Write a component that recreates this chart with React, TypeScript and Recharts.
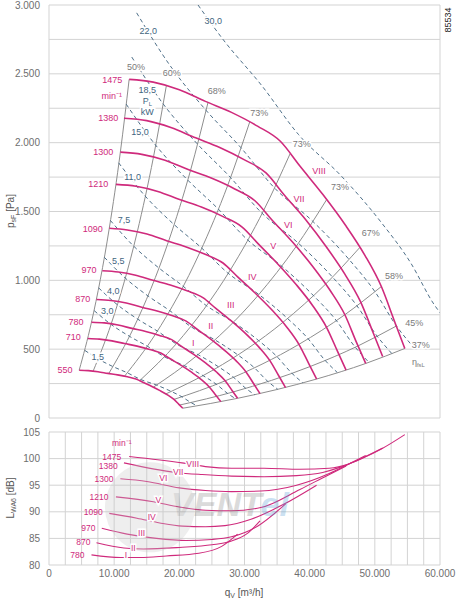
import React from 'react';
import { ComposedChart, Line, XAxis, YAxis, CartesianGrid, ReferenceDot } from 'recharts';

const FONT = '"Liberation Sans", Arial, Helvetica, sans-serif';
const PINK = '#cf2a7c';
const GREY = '#8e8e8e';
const DASH = '#4f7089';
const BLUE_TXT = '#3f6580';
const TICK = '#6e6e6e';

// fan speeds [min-1], same order as fanCurves
const speedNames = ['1475', '1380', '1300', '1210', '1090', '970', '870', '780', '710', '550'];

// p_sF [Pa] over q_V [m3/h]
const fanCurves: number[][][] = [
  [[12300, 2460], [16000, 2440], [20000, 2385], [24000, 2300], [28000, 2220], [32000, 2120], [35500, 2010], [38500, 1830], [42000, 1625], [45500, 1400], [48500, 1180], [51000, 955], [53000, 705], [54600, 505]],
  [[11500, 2177], [15000, 2160], [18700, 2110], [22500, 2035], [26200, 1965], [30000, 1875], [33300, 1780], [36100, 1620], [39400, 1440], [42600, 1240], [45400, 1045], [47800, 845], [49700, 625], [51200, 447]],
  [[10950, 1931], [14250, 1915], [17800, 1872], [21350, 1805], [24900, 1743], [28500, 1664], [31600, 1578], [34250, 1437], [37400, 1276], [40500, 1099], [43150, 926], [45400, 750], [47150, 553], [48600, 396]],
  [[10270, 1697], [13360, 1684], [16700, 1646], [20040, 1587], [23380, 1532], [26720, 1463], [29640, 1387], [32150, 1263], [35070, 1121], [37990, 966], [40500, 814], [42590, 659], [44260, 486], [45590, 348]],
  [[9250, 1378], [12030, 1366], [15040, 1336], [18050, 1288], [21060, 1243], [24060, 1187], [26700, 1126], [28950, 1025], [31580, 910], [34220, 784], [36470, 661], [38350, 535], [39860, 395], [41060, 283]],
  [[8180, 1070], [10640, 1061], [13300, 1037], [15960, 1000], [18620, 966], [21280, 922], [23610, 874], [25600, 796], [27930, 707], [30260, 609], [32250, 513], [33920, 415], [35250, 307], [36310, 220]],
  [[7290, 861], [9490, 854], [11860, 835], [14230, 805], [16600, 777], [18980, 742], [21050, 704], [22830, 641], [24910, 569], [26980, 490], [28760, 413], [30240, 334], [31430, 247], [32380, 177]],
  [[6520, 696], [8480, 691], [10600, 675], [12720, 651], [14840, 628], [16960, 600], [18820, 569], [20400, 518], [22260, 460], [24120, 396], [25700, 334], [27030, 270], [28090, 200], [28940, 143]],
  [[5940, 578], [7730, 573], [9660, 560], [11590, 541], [13520, 522], [15460, 498], [17150, 472], [18600, 430], [20290, 382], [21980, 329], [23430, 277], [24630, 224], [25600, 166], [26370, 119]],
  [[4630, 347], [6020, 344], [7520, 336], [9020, 324], [10530, 313], [12030, 299], [13350, 283], [14480, 258], [15790, 229], [17110, 197], [18240, 166], [19180, 135], [19930, 99], [20530, 71]],
];

// efficiency lines eta_fsL
const effNames = ['50%', '60%', '68%', '73%', '73%', '73%', '67%', '58%', '45%', '37%'];
const effLines: number[][][] = [
  [[4630, 347], [6520, 696], [9250, 1378], [10950, 1931], [12300, 2460]],
  [[6770, 340], [9540, 683], [13540, 1351], [16020, 1893], [18000, 2412]],
  [[9170, 323], [12930, 649], [18350, 1284], [21720, 1799], [24400, 2292]],
  [[11580, 303], [16320, 608], [23160, 1204], [27410, 1688], [30800, 2150]],
  [[13910, 271], [19610, 543], [27820, 1075], [32930, 1507], [37000, 1920]],
  [[16020, 224], [22580, 449], [32040, 888], [37910, 1245], [42600, 1586]],
  [[17940, 175], [25280, 351], [35870, 694], [42450, 973], [47700, 1239]],
  [[19180, 135], [27030, 270], [38350, 535], [45390, 750], [51000, 955]],
  [[20040, 94], [28250, 189], [40080, 374], [47440, 524], [53300, 668]],
  [[20530, 71], [28940, 143], [41060, 283], [48600, 396], [54600, 505]],
];

// shaft power lines P_L [kW]
const powerNames = ['1,5', '3,0', '4,0', '5,5', '7,5', '11,0', '15,0', '18,5', '22,0', '30,0'];
const powerLines: number[][][] = [
  [[5500, 491], [7580, 428], [9840, 373], [12030, 328], [14110, 279], [16520, 239], [18800, 192], [20430, 153], [21780, 112], [22760, 88]],
  [[6930, 780], [9550, 679], [12400, 592], [15150, 520], [17780, 443], [20820, 379], [23690, 306], [25740, 243], [27440, 177], [28680, 139]],
  [[7620, 945], [10510, 822], [13650, 717], [16680, 630], [19570, 537], [22910, 459], [26070, 370], [28330, 295], [30210, 215], [31570, 169]],
  [[8480, 1168], [11690, 1017], [15180, 887], [18550, 779], [21760, 664], [25480, 567], [28990, 458], [31510, 365], [33590, 265], [35100, 209]],
  [[9400, 1436], [12960, 1250], [16830, 1091], [20560, 958], [24130, 817], [28250, 698], [32150, 563], [34940, 448], [37250, 326], [38920, 257]],
  [[10680, 1854], [14720, 1614], [19130, 1408], [23370, 1237], [27420, 1054], [32100, 901], [36530, 726], [39700, 579], [42320, 421], [44230, 331]],
  [[11840, 2280], [16330, 1984], [21210, 1732], [25910, 1521], [30400, 1297], [35600, 1107], [40500, 893], [44020, 712], [46930, 518], [49040, 407]],
  [[12700, 2622], [17510, 2282], [22740, 1992], [27790, 1750], [32610, 1491], [38170, 1274], [43440, 1027], [47210, 818], [50330, 596], [52590, 469]],
  [[13450, 2943], [18550, 2562], [24100, 2235], [29440, 1964], [34540, 1674], [40440, 1430], [46020, 1153], [50010, 918], [53320, 668], [55720, 526]],
  [[22870, 3000], [26720, 2749], [32640, 2415], [38310, 2058], [44850, 1758], [51030, 1418], [55460, 1130], [59130, 822], [60000, 765]],
];

// sound power L_WA6 [dB] over q_V, 1475 ... 780
const noiseNames = ['1475', '1380', '1300', '1210', '1090', '970', '870', '780'];
const noiseCurves: number[][][] = [
  [[12300, 100.4], [20400, 99.2], [24000, 98.5], [28000, 98.2], [33000, 98.2], [38500, 98.0], [43000, 98.2], [46000, 99.0], [48000, 100.0], [51000, 101.8], [54600, 104.5]],
  [[11500, 99.2], [19500, 97.4], [23500, 97.0], [28000, 96.7], [33000, 96.6], [38000, 96.8], [42000, 97.4], [44500, 98.3], [47700, 99.9], [51200, 102.0]],
  [[10950, 96.2], [15000, 95.7], [20000, 94.5], [24000, 94.0], [28000, 93.8], [32500, 93.9], [38000, 95.0], [43000, 97.2], [46000, 99.0], [48600, 100.6]],
  [[10270, 92.8], [16000, 91.9], [20000, 90.9], [24000, 90.3], [28000, 90.2], [32500, 90.8], [38500, 94.2], [42500, 96.7], [45600, 98.6]],
  [[9250, 89.7], [13500, 88.8], [17000, 87.9], [20500, 87.3], [24000, 87.2], [27000, 87.4], [31000, 88.6], [36000, 91.4], [41060, 95.0]],
  [[8100, 86.9], [12000, 85.8], [16500, 85.0], [21000, 84.6], [25000, 84.8], [28000, 85.3], [32000, 87.3], [36310, 91.5]],
  [[7290, 84.2], [11500, 83.2], [14500, 83.0], [20000, 83.3], [25000, 83.8], [28000, 84.5], [30500, 86.0], [32380, 88.3]],
  [[6520, 81.9], [11000, 81.4], [14000, 81.4], [18000, 81.7], [23000, 82.2], [26500, 83.5], [28940, 85.8]],
];

// label anchors [text, q, value]
const speedTags: [string, number, number][] = [
  ['1475', 9700, 2456], ['min⁻¹', 9620, 2340], ['1380', 9100, 2177], ['1300', 8330, 1932], ['1210', 7560, 1704],
  ['1090', 6700, 1376], ['970', 6140, 1073], ['870', 5170, 866], ['780', 4140, 696], ['710', 3730, 587], ['550', 2450, 350],
];
const romanTags: [string, number, number][] = [
  ['VIII', 41430, 1794], ['VII', 38360, 1593], ['VI', 36720, 1405], ['V', 34420, 1247],
  ['IV', 31200, 1025], ['III', 27880, 823], ['II', 24810, 670], ['I', 22140, 544],
];
const effTags: [number, number][] = [
  [13350, 2554], [18830, 2505], [25730, 2376], [32270, 2219], [38780, 1993],
  [44660, 1677], [49370, 1345], [52940, 1029], [56060, 690], [57040, 532],
];
const powerTags: [number, number][] = [
  [7470, 446], [8950, 779], [9870, 927], [10630, 1145], [11510, 1437],
  [12840, 1753], [13960, 2078], [15080, 2383], [15240, 2813], [25210, 2886],
];
const noiseTags: [string, number, number][] = [
  ['min⁻¹', 11160, 102.9], ['1475', 9620, 100.35], ['1380', 9100, 98.55], ['1300', 8440, 96.15], ['1210', 7670, 92.75],
  ['1090', 6800, 90.05], ['970', 6030, 86.9], ['870', 5260, 84.4], ['780', 4340, 81.9],
];
const noiseRoman: [string, number, number][] = [
  ['VIII', 22050, 99.0], ['VII', 19840, 97.4], ['VI', 17540, 96.3], ['V', 16770, 92.25],
  ['IV', 15760, 89.1], ['III', 14220, 86.0], ['II', 12940, 83.15], ['I', 11820, 81.9],
];

const qTicks = [0, 2500, 5000, 7500, 10000, 12500, 15000, 17500, 20000, 22500, 25000, 27500, 30000,
  32500, 35000, 37500, 40000, 42500, 45000, 47500, 50000, 52500, 55000, 57500, 60000];
const pTicks = [0, 250, 500, 750, 1000, 1250, 1500, 1750, 2000, 2250, 2500, 2750, 3000];
const dbTicks = [80, 85, 90, 95, 100, 105];

const fmt = (n: number) => (n >= 1000 ? `${Math.floor(n / 1000)}.${String(n % 1000).padStart(3, '0')}` : String(n));
const toPts = (arr: number[][]) => arr.map(([q, v]) => ({ q, v }));

function tag(text: string, fill: string, size: number, sub?: string, halo?: boolean) {
  return (p: any) => (
    <text x={p.cx} y={p.cy} dy="0.35em" textAnchor="middle" fill={fill} fontSize={size} fontFamily={FONT}
      stroke={halo ? '#fff' : 'none'} strokeWidth={halo ? 3 : 0} paintOrder="stroke">
      {text}
      {sub ? <tspan fontSize={size * 0.65} dy={2}>{sub}</tspan> : null}
    </text>
  );
}

const watermark = (p: any) => (
  <g opacity={0.3}>
    <circle cx={p.cx - 80} cy={p.cy + 3} r={45} fill="#c8c8c8" />
    <text x={p.cx} y={p.cy} dy="0.35em" textAnchor="middle" fontSize={34} fontWeight={700} fontStyle="italic" fontFamily={FONT}>
      <tspan fill="#8a8a8a">VENT</tspan>
      <tspan fill="#5a9fd6">el</tspan>
    </text>
  </g>
);

export default function App() {
  const tickStyle = { fill: TICK, fontSize: 10, fontFamily: FONT };
  return (
    <div style={{ position: 'absolute', left: 0, top: 0, width: 459, height: 603, background: '#fff' }}>
      <ComposedChart width={459} height={425} margin={{ top: 5, right: 19, left: 0, bottom: 7 }}>
        <CartesianGrid stroke="#d3d3d3" />
        <XAxis dataKey="q" type="number" domain={[0, 60000]} ticks={qTicks} interval={0} allowDataOverflow
          height={0} tick={false} axisLine={false} tickLine={false} />
        <YAxis type="number" domain={[0, 3000]} ticks={pTicks} interval={0} allowDataOverflow width={49}
          axisLine={false} tickLine={false} tickSize={0} tickMargin={9} tick={tickStyle}
          tickFormatter={(v: number) => (v % 500 === 0 ? fmt(v) : '')} />
        {effLines.map((l, i) => (
          <Line key={'e' + i} data={toPts(l)} dataKey="v" type="monotone" stroke={GREY} strokeWidth={1}
            dot={false} activeDot={false} isAnimationActive={false} />
        ))}
        {powerLines.map((l, i) => (
          <Line key={'w' + i} data={toPts(l)} dataKey="v" type="monotone" stroke={DASH} strokeWidth={1}
            strokeDasharray="4 3" dot={false} activeDot={false} isAnimationActive={false} />
        ))}
        {fanCurves.map((l, i) => (
          <Line key={'f' + i} data={toPts(l)} dataKey="v" type="monotone" stroke={PINK} strokeWidth={1.6}
            dot={false} activeDot={false} isAnimationActive={false} name={speedNames[i]} />
        ))}
        {speedTags.map(([t, q, v], i) => (
          <ReferenceDot key={'st' + i} x={q} y={v} r={0} ifOverflow="visible" shape={tag(t, PINK, 9)} />
        ))}
        {romanTags.map(([t, q, v], i) => (
          <ReferenceDot key={'rt' + i} x={q} y={v} r={0} ifOverflow="visible" shape={tag(t, PINK, 9, undefined, true)} />
        ))}
        {effTags.map(([q, v], i) => (
          <ReferenceDot key={'et' + i} x={q} y={v} r={0} ifOverflow="visible" shape={tag(effNames[i], '#7a7a7a', 9, undefined, true)} />
        ))}
        <ReferenceDot x={56670} y={410} r={0} ifOverflow="visible" shape={tag('η', '#7a7a7a', 9, 'fsL')} />
        {powerTags.map(([q, v], i) => (
          <ReferenceDot key={'pt' + i} x={q} y={v} r={0} ifOverflow="visible" shape={tag(powerNames[i], BLUE_TXT, 9, undefined, true)} />
        ))}
        <ReferenceDot x={15080} y={2303} r={0} ifOverflow="visible" shape={tag('P', BLUE_TXT, 9, 'L', true)} />
        <ReferenceDot x={15080} y={2226} r={0} ifOverflow="visible" shape={tag('kW', BLUE_TXT, 9, undefined, true)} />
      </ComposedChart>

      <div style={{ position: 'absolute', left: 0, top: 425 }}>
        <ComposedChart width={459} height={178} margin={{ top: 7, right: 19, left: 0, bottom: 8 }}>
          <CartesianGrid stroke="#d3d3d3" />
          <ReferenceDot x={27770} y={91.4} r={0} ifOverflow="visible" shape={watermark} />
          <XAxis dataKey="q" type="number" domain={[0, 60000]} ticks={qTicks} interval={0} allowDataOverflow
            height={30} axisLine={false} tickLine={false} tickSize={0} tickMargin={5} tick={tickStyle}
            tickFormatter={(v: number) => (v % 10000 === 0 ? fmt(v) : '')} />
          <YAxis type="number" domain={[80, 105]} ticks={dbTicks} interval={0} allowDataOverflow width={49}
            axisLine={false} tickLine={false} tickSize={0} tickMargin={9} tick={tickStyle} />
          {noiseCurves.map((l, i) => (
            <Line key={'n' + i} data={toPts(l)} dataKey="v" type="monotone" stroke={PINK} strokeWidth={1.1}
              dot={false} activeDot={false} isAnimationActive={false} name={noiseNames[i]} />
          ))}
          {noiseTags.map(([t, q, v], i) => (
            <ReferenceDot key={'nt' + i} x={q} y={v} r={0} ifOverflow="visible" shape={tag(t, PINK, 8.5)} />
          ))}
          {noiseRoman.map(([t, q, v], i) => (
            <ReferenceDot key={'nr' + i} x={q} y={v} r={0} ifOverflow="visible" shape={tag(t, PINK, 8.5, undefined, true)} />
          ))}
        </ComposedChart>
      </div>

      <svg width={459} height={603} style={{ position: 'absolute', left: 0, top: 0, pointerEvents: 'none' }}>
        <text transform="translate(14,211) rotate(-90)" textAnchor="middle" fontSize={10} fill="#555" fontFamily={FONT}>
          p<tspan fontSize={7} dy={2}>sF</tspan><tspan dy={-2}> [Pa]</tspan>
        </text>
        <text transform="translate(14,498) rotate(-90)" textAnchor="middle" fontSize={10} fill="#555" fontFamily={FONT}>
          L<tspan fontSize={7} dy={2}>WA6</tspan><tspan dy={-2}> [dB]</tspan>
        </text>
        <text x={244} y={596} textAnchor="middle" fontSize={10} fill="#555" fontFamily={FONT}>
          q<tspan fontSize={7} dy={2}>V</tspan><tspan dy={-2}> [m³/h]</tspan>
        </text>
        <text transform="translate(451,20) rotate(-90)" textAnchor="middle" fontSize={9} fill="#222" fontFamily={FONT}>
          85534
        </text>
      </svg>
    </div>
  );
}
